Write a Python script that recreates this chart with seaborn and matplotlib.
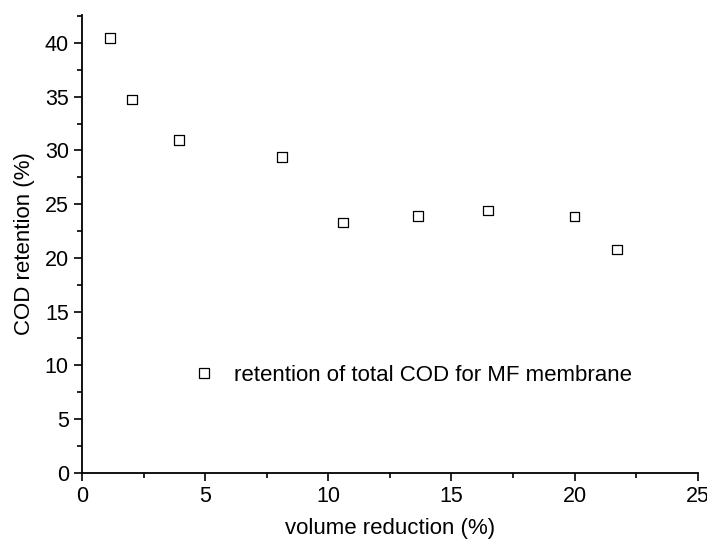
import matplotlib
matplotlib.use("Agg")
import matplotlib.pyplot as plt
import seaborn as sns
import pandas as pd
from matplotlib.ticker import MultipleLocator

volume_reduction = [1.13, 2.02, 3.94, 8.13, 10.6, 13.63, 16.48, 20.0, 21.73]
cod_retention = [40.47, 34.73, 30.95, 29.37, 23.29, 23.88, 24.41, 23.85, 20.78]
series_label = "retention of total COD for MF membrane"

sns.set_theme(style="ticks")
plt.rcParams['font.family'] = ['Liberation Sans', 'DejaVu Sans']
plt.rcParams['text.color'] = 'black'
plt.rcParams['axes.labelcolor'] = 'black'
plt.rcParams['xtick.color'] = 'black'
plt.rcParams['ytick.color'] = 'black'

df = pd.DataFrame({"x": volume_reduction, "y": cod_retention, "s": series_label})

fig = plt.figure(figsize=(7.07, 5.4), dpi=100)
ax = fig.add_axes([0.116, 0.1246, 0.871, 0.8474])
sns.scatterplot(data=df, x="x", y="y", hue="s", palette=["black"], marker="s",
                s=48, linewidth=0.9, ax=ax)
for c in ax.collections:
    c.set_facecolor("none")
    c.set_edgecolor("black")

ax.set_xlim(0, 25)
ax.set_ylim(0, 42.6)
ax.xaxis.set_major_locator(MultipleLocator(5))
ax.xaxis.set_minor_locator(MultipleLocator(2.5))
ax.yaxis.set_major_locator(MultipleLocator(5))
ax.yaxis.set_minor_locator(MultipleLocator(2.5))
ax.tick_params(which="major", length=5.5, width=1.2, labelsize=15.5, colors="black",
               direction="out", pad=4)
ax.tick_params(which="minor", length=3.5, width=1.2, direction="out", colors="black")
for sp in ["top", "right"]:
    ax.spines[sp].set_visible(False)
for sp in ["left", "bottom"]:
    ax.spines[sp].set_linewidth(1.3)
    ax.spines[sp].set_color("black")
ax.set_xlabel("volume reduction (%)", fontsize=16, labelpad=8)
ax.set_ylabel("COD retention (%)", fontsize=16, labelpad=7)

h, l = ax.get_legend_handles_labels()
leg = ax.legend(h, [series_label], loc="center left", bbox_to_anchor=(0.156, 0.213),
                frameon=False, fontsize=16, handletextpad=0.6, borderaxespad=0,
                handlelength=1.5)
for hh in leg.legend_handles:
    try:
        hh.set_facecolor("none")
        hh.set_edgecolor("black")
    except Exception:
        pass
    try:
        hh.set_markerfacecolor("none")
        hh.set_markeredgecolor("black")
    except Exception:
        pass

fig.savefig("out.png", dpi=100)
